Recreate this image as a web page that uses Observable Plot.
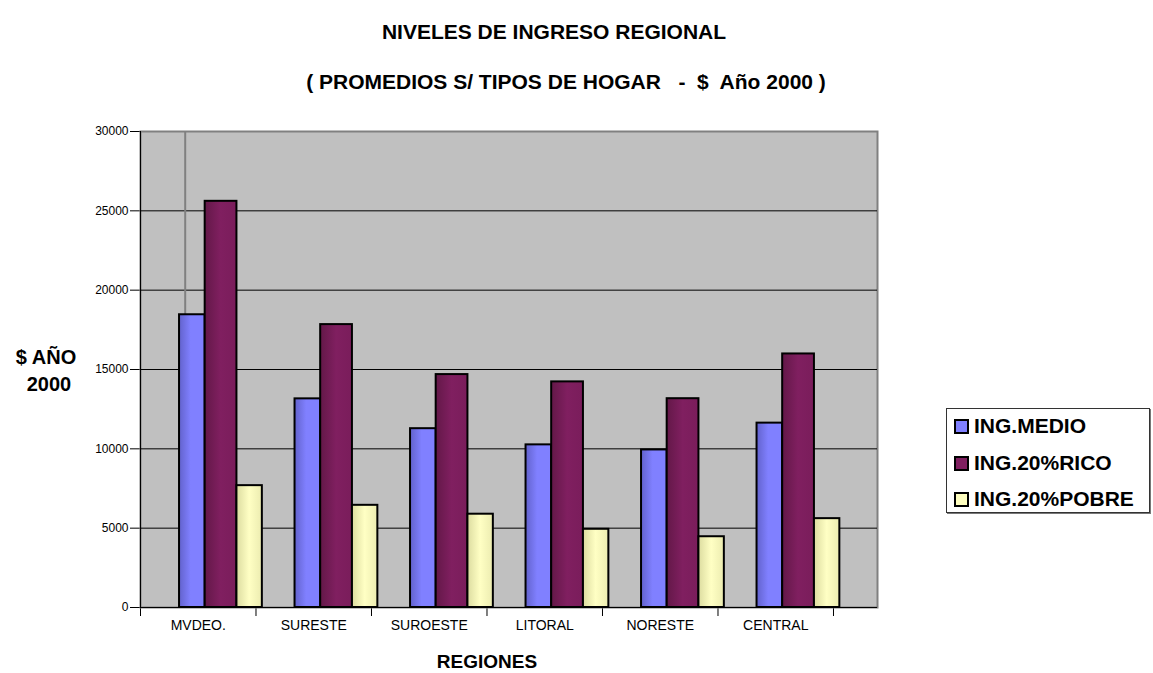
<!DOCTYPE html>
<html>
<head>
<meta charset="utf-8">
<script src="https://cdn.jsdelivr.net/npm/d3@7"></script>
<script src="https://cdn.jsdelivr.net/npm/@observablehq/plot@0.6"></script>
<style>
  body { margin: 0; background: #fff; font-family: "Liberation Sans", Arial, sans-serif; }
  #wrap { position: relative; width: 1153px; height: 673px; overflow: hidden; background: #fff; }
  #wrap svg { position: absolute; left: 0; top: 0; }
  .t { position: absolute; white-space: pre; color: #000; transform: translate(-50%, -50%); line-height: 1; font-weight: bold; }
  #legend { position: absolute; left: 946px; top: 408px; width: 204px; height: 105px; border: 1px solid #333; box-shadow: 1px 1px 0 #777; background: #fff; box-sizing: border-box; }
  .li { position: absolute; left: 7px; height: 22px; display: flex; align-items: center; font-weight: bold; font-size: 21px; white-space: pre; }
  .sw { width: 11px; height: 11px; border: 2px solid #000; margin-right: 5px; flex: none; }
</style>
</head>
<body>
<div id="wrap">
  <div class="t" style="left:554px;top:31px;font-size:21px;">NIVELES DE INGRESO REGIONAL</div>
  <div class="t" style="left:566px;top:81px;font-size:21px;">( PROMEDIOS S/ TIPOS DE HOGAR   -  $  Año 2000 )</div>
  <div class="t" style="left:46px;top:357px;font-size:20px;">$ AÑO</div>
  <div class="t" style="left:49px;top:384px;font-size:20px;">2000</div>
  <div class="t" style="left:487px;top:661px;font-size:19px;">REGIONES</div>
  <div id="legend"></div>
</div>
<script>
// ---- Data ----
const categories = ["MVDEO.", "SURESTE", "SUROESTE", "LITORAL", "NORESTE", "CENTRAL"];
const seriesNames = ["ING.MEDIO", "ING.20%RICO", "ING.20%POBRE"];
const ingMedio = [18450, 13150, 11270, 10250, 9930, 11620];
const ingRico  = [25600, 17830, 14680, 14220, 13160, 15980];
const ingPobre = [7680, 6440, 5880, 4930, 4460, 5600];
const yTicks = [0, 5000, 10000, 15000, 20000, 25000, 30000];

// ---- Styles / layout ----
const seriesValues = [ingMedio, ingRico, ingPobre];
const barSpan = [[0.338, 0.56], [0.56, 0.835], [0.835, 1.055]];
const gradIds = ["gBlue", "gPurple", "gYellow"];
const swatch = ["#8080ff", "#801f60", "#ffffc0"];
const xMax = 6.381;

const rows = categories.map((c, i) => ({ cat: c, i }));

const barMarks = seriesValues.map((vals, s) =>
  Plot.rect(rows, {
    x1: d => d.i + barSpan[s][0],
    x2: d => d.i + barSpan[s][1],
    y1: d => 0,
    y2: d => vals[d.i],
    fill: `url(#${gradIds[s]})`,
    stroke: "#000",
    strokeWidth: 2
  })
);

const chart = Plot.plot({
  width: 1153,
  height: 673,
  marginLeft: 140,
  marginRight: 276,
  marginTop: 131,
  marginBottom: 66,
  style: { fontFamily: "'Liberation Sans', Arial, sans-serif", fontSize: "12px", color: "#000", background: "transparent", overflow: "visible" },
  x: { domain: [0, xMax], ticks: d3.range(categories.length + 1), tickFormat: () => "", tickSize: 9, label: null },
  y: { domain: [0, 30000], ticks: yTicks, tickFormat: d3.format("d"), tickSize: 10, tickPadding: 2, label: null },
  marks: [
    Plot.frame({ fill: "#c0c0c0", stroke: "#808080", strokeWidth: 2 }),
    Plot.ruleY(yTicks.filter(d => d > 0 && d < 30000), { stroke: "#000", strokeWidth: 1 }),
    Plot.ruleX([0], { x: d => d + 0.387, y1: d => 0, y2: d => 30000, stroke: "#808080", strokeWidth: 2 }),
    ...barMarks,
    Plot.ruleX([0], { stroke: "#000", strokeWidth: 1 }),
    Plot.ruleY([0], { stroke: "#000", strokeWidth: 1 }),
    Plot.text(categories, { x: (d, i) => i + 0.5, text: d => d, frameAnchor: "bottom", dy: 22, fontSize: 14 })
  ]
});

// gradients for Excel-like shading
const defs = d3.select(chart).insert("defs", ":first-child");
function grad(id, stops) {
  const g = defs.append("linearGradient").attr("id", id)
    .attr("x1", "0").attr("x2", "1").attr("y1", "0").attr("y2", "0");
  stops.forEach(([o, c]) => g.append("stop").attr("offset", o).attr("stop-color", c));
}
grad("gBlue", [[0, "#6262cc"], [0.45, "#8080ff"], [1, "#8080ff"]]);
grad("gPurple", [[0, "#631848"], [0.5, "#801f60"], [1, "#7a1d5b"]]);
grad("gYellow", [[0, "#dcdca0"], [0.5, "#ffffc4"], [1, "#ececb0"]]);

document.getElementById("wrap").appendChild(chart);

// legend
const legend = document.getElementById("legend");
const rowTops = [6, 43, 79];
seriesNames.forEach((name, s) => {
  const item = document.createElement("div");
  item.className = "li";
  item.style.top = rowTops[s] + "px";
  const sw = document.createElement("div");
  sw.className = "sw";
  sw.style.background = swatch[s];
  item.appendChild(sw);
  item.appendChild(document.createTextNode(name));
  legend.appendChild(item);
});
</script>
</body>
</html>
